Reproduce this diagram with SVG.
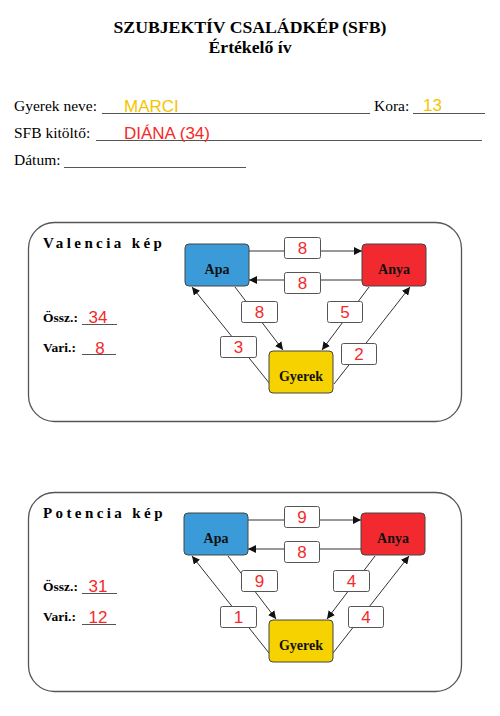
<svg xmlns="http://www.w3.org/2000/svg" width="500" height="716" viewBox="0 0 500 716">
<style>
.ser{font-family:"Liberation Serif","Times New Roman",serif;fill:#000}
.b{font-weight:bold}
.hand{font-family:"Liberation Sans",Arial,sans-serif}
.red{fill:#f42a2a}
.yel{fill:#f5c400}
.ul{stroke:#555;stroke-width:1}
.panel{fill:#fff;stroke:#555;stroke-width:1.3}
.node{stroke:#444;stroke-width:1}
.lbl{fill:#fff;stroke:#555;stroke-width:1}
.num{font-family:"Liberation Sans",Arial,sans-serif;font-size:17px;fill:#f42a2a;text-anchor:middle}
.ntxt{font-family:"Liberation Serif","Times New Roman",serif;font-weight:bold;font-size:14px;fill:#111;text-anchor:middle}
.con{stroke:#333;stroke-width:1;fill:none}
.ttl{font-family:"Liberation Serif","Times New Roman",serif;font-weight:bold;font-size:15px;letter-spacing:3.4px}
</style>
<defs>
<marker id="ah" viewBox="0 0 10 10" refX="10" refY="5" markerWidth="8" markerHeight="8" markerUnits="userSpaceOnUse" orient="auto">
<path d="M0,0 L10,5 L0,10 z" fill="#111"/>
</marker>
</defs>
<rect width="500" height="716" fill="#fff"/>

<g id="header">
<text class="ser b" x="250" y="33" font-size="17.7" text-anchor="middle">SZUBJEKTÍV CSALÁDKÉP (SFB)</text>
<text class="ser b" x="250" y="53" font-size="17.7" text-anchor="middle">Értékelő ív</text>
<text class="ser" x="14" y="111" font-size="15.5">Gyerek neve:</text>
<line class="ul" x1="102" y1="113.5" x2="370" y2="113.5"/>
<text class="hand yel" x="124" y="112" font-size="17">MARCI</text>
<text class="ser" x="374" y="111" font-size="15.5">Kora:</text>
<line class="ul" x1="413" y1="113.5" x2="485" y2="113.5"/>
<text class="hand yel" x="423" y="111" font-size="17">13</text>
<text class="ser" x="14" y="138" font-size="15.5">SFB kitöltő:</text>
<line class="ul" x1="96" y1="140.5" x2="482" y2="140.5"/>
<text class="hand red" x="124" y="139" font-size="17">DIÁNA (34)</text>
<text class="ser" x="14" y="165" font-size="15.5">Dátum:</text>
<line class="ul" x1="64" y1="167.5" x2="246" y2="167.5"/>
</g>

<!-- Valencia panel -->
<g id="valencia-panel">
<rect class="panel" x="28.5" y="222.5" width="433" height="199" rx="26"/>
<text class="ttl" x="43" y="248">Valencia kép</text>
<text class="ser b" x="43" y="322" font-size="13.5">Össz.:</text>
<line class="ul" x1="82" y1="324.5" x2="117" y2="324.5"/>
<text class="hand red" x="98" y="323" font-size="17" text-anchor="middle">34</text>
<text class="ser b" x="43" y="352" font-size="13.5">Vari.:</text>
<line class="ul" x1="82" y1="354.5" x2="116" y2="354.5"/>
<text class="hand red" x="100" y="354" font-size="17" text-anchor="middle">8</text>
</g>

<g id="valencia-connectors">
<line class="con" x1="249" y1="251" x2="362" y2="251" marker-end="url(#ah)"/>
<line class="con" x1="362" y1="280" x2="249" y2="280" marker-end="url(#ah)"/>
<line class="con" x1="235" y1="287" x2="283" y2="350" marker-end="url(#ah)"/>
<line class="con" x1="369" y1="287" x2="322" y2="350" marker-end="url(#ah)"/>
<line class="con" x1="270" y1="384" x2="192" y2="287" marker-end="url(#ah)"/>
<line class="con" x1="334" y1="384" x2="410" y2="287" marker-end="url(#ah)"/>
<g id="valencia-labels">
<rect class="lbl" x="284.5" y="237.5" width="36" height="21" rx="2"/><text class="num" x="302.5" y="254">8</text>
<rect class="lbl" x="284.5" y="272.5" width="36" height="21" rx="2"/><text class="num" x="302.5" y="289">8</text>
<rect class="lbl" x="241.5" y="301.5" width="36" height="21" rx="2"/><text class="num" x="259.5" y="318">8</text>
<rect class="lbl" x="327.5" y="301.5" width="35" height="21" rx="2"/><text class="num" x="345" y="318">5</text>
<rect class="lbl" x="220.5" y="336.5" width="36" height="21" rx="2"/><text class="num" x="238.5" y="353">3</text>
<rect class="lbl" x="341.5" y="343.5" width="35" height="21" rx="2"/><text class="num" x="359" y="360">2</text>
</g>
</g>

<g id="valencia-apa"><rect class="node" x="185" y="244" width="64" height="42" rx="4" fill="#3a9bd8"/><text class="ntxt" x="217" y="274">Apa</text></g>
<g id="valencia-anya"><rect class="node" x="362" y="244" width="64" height="42" rx="4" fill="#f22a30"/><text class="ntxt" x="394" y="274">Anya</text></g>
<g id="valencia-gyerek"><rect class="node" x="269" y="351" width="64" height="42" rx="4" fill="#f6d200"/><text class="ntxt" x="301" y="381">Gyerek</text></g>

<!-- Potencia panel -->
<g id="potencia-panel">
<rect class="panel" x="28.5" y="492.5" width="433" height="199" rx="26"/>
<text class="ttl" x="43" y="518">Potencia kép</text>
<text class="ser b" x="43" y="591" font-size="13.5">Össz.:</text>
<line class="ul" x1="82" y1="593.5" x2="117" y2="593.5"/>
<text class="hand red" x="98" y="592" font-size="17" text-anchor="middle">31</text>
<text class="ser b" x="43" y="621" font-size="13.5">Vari.:</text>
<line class="ul" x1="82" y1="624.5" x2="116" y2="624.5"/>
<text class="hand red" x="98" y="623" font-size="17" text-anchor="middle">12</text>
</g>

<g id="potencia-connectors">
<line class="con" x1="248" y1="520" x2="361" y2="520" marker-end="url(#ah)"/>
<line class="con" x1="361" y1="549" x2="248" y2="549" marker-end="url(#ah)"/>
<line class="con" x1="228" y1="556" x2="276" y2="619" marker-end="url(#ah)"/>
<line class="con" x1="375" y1="556" x2="327" y2="619" marker-end="url(#ah)"/>
<line class="con" x1="269" y1="653" x2="192" y2="556" marker-end="url(#ah)"/>
<line class="con" x1="333" y1="653" x2="409" y2="556" marker-end="url(#ah)"/>
<g id="potencia-labels">
<rect class="lbl" x="284.5" y="506.5" width="35" height="21" rx="2"/><text class="num" x="302" y="523">9</text>
<rect class="lbl" x="284.5" y="541.5" width="35" height="21" rx="2"/><text class="num" x="302" y="558">8</text>
<rect class="lbl" x="241.5" y="570.5" width="36" height="21" rx="2"/><text class="num" x="259.5" y="587">9</text>
<rect class="lbl" x="333.5" y="570.5" width="36" height="21" rx="2"/><text class="num" x="351.5" y="587">4</text>
<rect class="lbl" x="220.5" y="606.5" width="36" height="21" rx="2"/><text class="num" x="238.5" y="623">1</text>
<rect class="lbl" x="348.5" y="606.5" width="35" height="21" rx="2"/><text class="num" x="366" y="623">4</text>
</g>
</g>

<g id="potencia-apa"><rect class="node" x="184" y="513" width="64" height="42" rx="4" fill="#3a9bd8"/><text class="ntxt" x="216" y="543">Apa</text></g>
<g id="potencia-anya"><rect class="node" x="361" y="513" width="64" height="42" rx="4" fill="#f22a30"/><text class="ntxt" x="393" y="543">Anya</text></g>
<g id="potencia-gyerek"><rect class="node" x="269" y="620" width="64" height="42" rx="4" fill="#f6d200"/><text class="ntxt" x="301" y="650">Gyerek</text></g>
</svg>
